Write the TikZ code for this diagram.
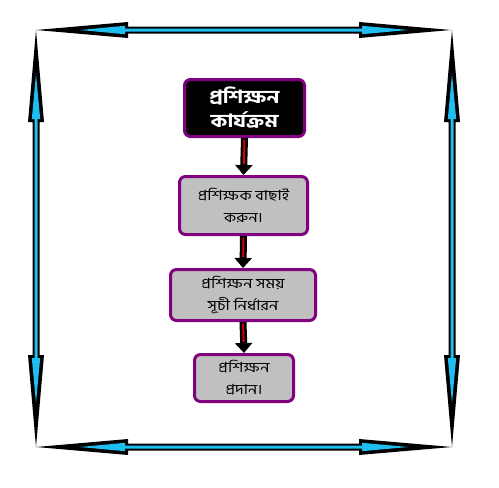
\documentclass[tikz,border=0pt]{standalone}
\usepackage{fontspec}
\newfontfamily\bn[Script=Bengali,FakeStretch=1.16]{Hind Siliguri}
\newfontfamily\bnt[Script=Bengali,FakeStretch=1.2]{Hind Siliguri Bold}
\usetikzlibrary{arrows.meta}
\definecolor{bordpurple}{RGB}{128,0,128}
\definecolor{arrcyan}{RGB}{30,190,240}
\definecolor{boxgray}{RGB}{192,192,192}
\definecolor{arrred}{RGB}{210,0,0}
\tikzset{
  stepbox/.style={draw=bordpurple, line width=3pt, rounded corners=6pt, fill=boxgray,
    align=center, inner sep=2pt, font=\bn\fontsize{14}{22}\selectfont},
  titlebox/.style={stepbox, fill=black, text=white, font=\bnt\fontsize{18}{24}\selectfont},
  flowshaft/.style={draw=black, line width=7pt, -{Triangle[width=17pt,length=10pt]}},
  flowcore/.style={draw=arrred, line width=2pt, shorten >=11pt, shorten <=1.5pt},
  outerarr/.style={fill=black},
  innerarr/.style={fill=arrcyan}
}
\begin{document}
\begin{tikzpicture}[x=1pt,y=-1pt]
\useasboundingbox (0,0) rectangle (499,488);
\fill[white] (0,0) rectangle (499,488);

% border double arrows
% top
\fill[outerarr] (36,30) -- (128,22) -- (128,26.5) -- (359,26.5) -- (359,22) -- (451,30) -- (359,38) -- (359,33.5) -- (128,33.5) -- (128,38) -- cycle;
\fill[innerarr] (80,30) -- (125,25.8) -- (125,28.5) -- (362,28.5) -- (362,25.8) -- (408,30) -- (362,34.2) -- (362,31.5) -- (125,31.5) -- (125,34.2) -- cycle;
% bottom
\fill[outerarr] (36,447) -- (128,439) -- (128,443.5) -- (359,443.5) -- (359,439) -- (452,447) -- (359,455) -- (359,450.5) -- (128,450.5) -- (128,455) -- cycle;
\fill[innerarr] (80,447) -- (125,442.8) -- (125,445.5) -- (362,445.5) -- (362,442.8) -- (408,447) -- (362,451.2) -- (362,448.5) -- (125,448.5) -- (125,451.2) -- cycle;
% left
\fill[outerarr] (36,30) -- (28,122) -- (32.5,122) -- (32.5,355) -- (28,355) -- (36,447) -- (44,355) -- (39.5,355) -- (39.5,122) -- (44,122) -- cycle;
\fill[innerarr] (36,74) -- (31.8,119) -- (34.5,119) -- (34.5,358) -- (31.8,358) -- (36,403) -- (40.2,358) -- (37.5,358) -- (37.5,119) -- (40.2,119) -- cycle;
% right
\fill[outerarr] (452,30) -- (444,122) -- (448.5,122) -- (448.5,355) -- (444,355) -- (452,447) -- (460,355) -- (455.5,355) -- (455.5,122) -- (460,122) -- cycle;
\fill[innerarr] (452,74) -- (447.8,119) -- (450.5,119) -- (450.5,358) -- (447.8,358) -- (452,403) -- (456.2,358) -- (453.5,358) -- (453.5,119) -- (456.2,119) -- cycle;

% flow boxes
\node[titlebox, minimum width=120pt, minimum height=57pt] (b1) at (244.5,108) {প্রশিক্ষন\\কার্যক্রম};
\node[stepbox, minimum width=128pt, minimum height=58pt] (b2) at (243.5,205.5) {প্রশিক্ষক বাছাই\\করুন।};
\node[stepbox, minimum width=145pt, minimum height=51pt] (b3) at (243,295) {প্রশিক্ষন সময়\\সূচী নির্ধারন};
\node[stepbox, minimum width=99pt, minimum height=47pt] (b4) at (244,378) {প্রশিক্ষন\\প্রদান।};

% connectors
\draw[flowshaft] (b1.south) -- (b2.north);
\draw[flowcore] (b1.south) -- (b2.north);
\draw[flowshaft] (b2.south) -- (b3.north);
\draw[flowcore] (b2.south) -- (b3.north);
\draw[flowshaft] (b3.south) -- (b4.north);
\draw[flowcore] (b3.south) -- (b4.north);
\end{tikzpicture}
\end{document}
